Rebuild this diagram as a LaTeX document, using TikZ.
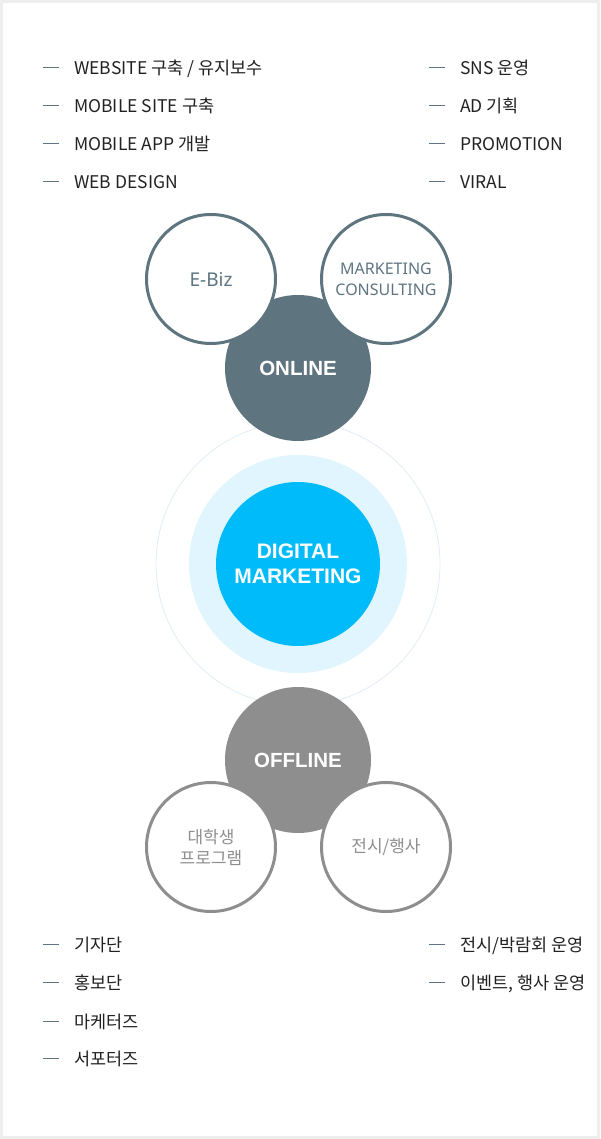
\documentclass[tikz,border=0pt]{standalone}
\usepackage{fontspec}
\setmainfont{Noto Sans CJK KR}
\newfontfamily\robfont{Noto Sans}
\newfontfamily\hubfont{Liberation Sans}
\usetikzlibrary{positioning}
\definecolor{framec}{HTML}{EEEEEE}
\definecolor{onlinec}{HTML}{5E7580}
\definecolor{offlinec}{HTML}{8E8E8E}
\definecolor{digitalc}{HTML}{00BBFA}
\definecolor{glowc}{HTML}{E0F5FD}
\definecolor{ringc}{HTML}{E3EDF8}
\definecolor{itemc}{HTML}{222222}
\newcommand{\bul}{\textcolor{onlinec}{\rule[6pt]{16pt}{1pt}}\hspace{15pt}}

\begin{document}
\begin{tikzpicture}[
            x=1pt, y=-1pt,
            itm/.style={anchor=base west, inner sep=0pt, text=itemc, font=\fontsize{17.5}{17.5}\selectfont},
            hub/.style={circle, inner sep=0pt, minimum size=146pt, text=white, font=\hubfont\bfseries\fontsize{20.5}{24}\selectfont, align=center},
            sub/.style={circle, draw, line width=3pt, fill=white, inner sep=0pt, minimum size=129pt, align=center, font=\robfont\fontsize{17}{21}\selectfont},
            subkr/.style={sub, font=\fontsize{17}{21}\selectfont}
        ]
        % frame
        \fill[framec] (0,0) rectangle (600,1139);
        \fill[white] (3,3) rectangle (597,1136);

        % centre rings
        \node[circle, draw=ringc, line width=0.8pt, minimum size=284pt, inner sep=0pt] (ring) at (298,564) {};
        \node[circle, fill=glowc, minimum size=218pt, inner sep=0pt] (glow) at (298,564) {};
        \node[hub, fill=digitalc, minimum size=164pt, font=\hubfont\bfseries\fontsize{21}{25}\selectfont] (digital) at (298,564) {DIGITAL\\MARKETING};

        % online
        \node[hub, fill=onlinec] (online) at (298,368) {ONLINE};
        \node[sub, draw=onlinec, text=onlinec, font=\robfont\fontsize{19}{21}\selectfont] (ebiz) at (211,279) {E-Biz};
        \node[sub, draw=onlinec, text=onlinec, font=\robfont\fontsize{16}{21}\selectfont] (consult) at (386,279) {MARKETING\\CONSULTING};

        % offline
        \node[hub, fill=offlinec] (offline) at (298,760) {OFFLINE};
        \node[subkr, draw=offlinec, text=offlinec] (student) at (211,847) {대학생\\프로그램};
        \node[subkr, draw=offlinec, text=offlinec] (event) at (386,847) {전시/행사};

        % online lists
        \node[itm] (web1) at (43,74.5) {\bul WEBSITE 구축 / 유지보수};
        \node[itm] (web2) at (43,112.5) {\bul MOBILE SITE 구축};
        \node[itm] (web3) at (43,150.5) {\bul MOBILE APP 개발};
        \node[itm] (web4) at (43,188.5) {\bul WEB DESIGN};
        \node[itm] (mkt1) at (429,74.5) {\bul SNS 운영};
        \node[itm] (mkt2) at (429,112.5) {\bul AD 기획};
        \node[itm] (mkt3) at (429,150.5) {\bul PROMOTION};
        \node[itm] (mkt4) at (429,188.5) {\bul VIRAL};

        % offline lists
        \node[itm] (stu1) at (43,951) {\bul 기자단};
        \node[itm] (stu2) at (43,989) {\bul 홍보단};
        \node[itm] (stu3) at (43,1028) {\bul 마케터즈};
        \node[itm] (stu4) at (43,1065) {\bul 서포터즈};
        \node[itm] (evt1) at (429,951) {\bul 전시/박람회 운영};
        \node[itm] (evt2) at (429,989) {\bul 이벤트, 행사 운영};
        \end{tikzpicture}
\end{document}
